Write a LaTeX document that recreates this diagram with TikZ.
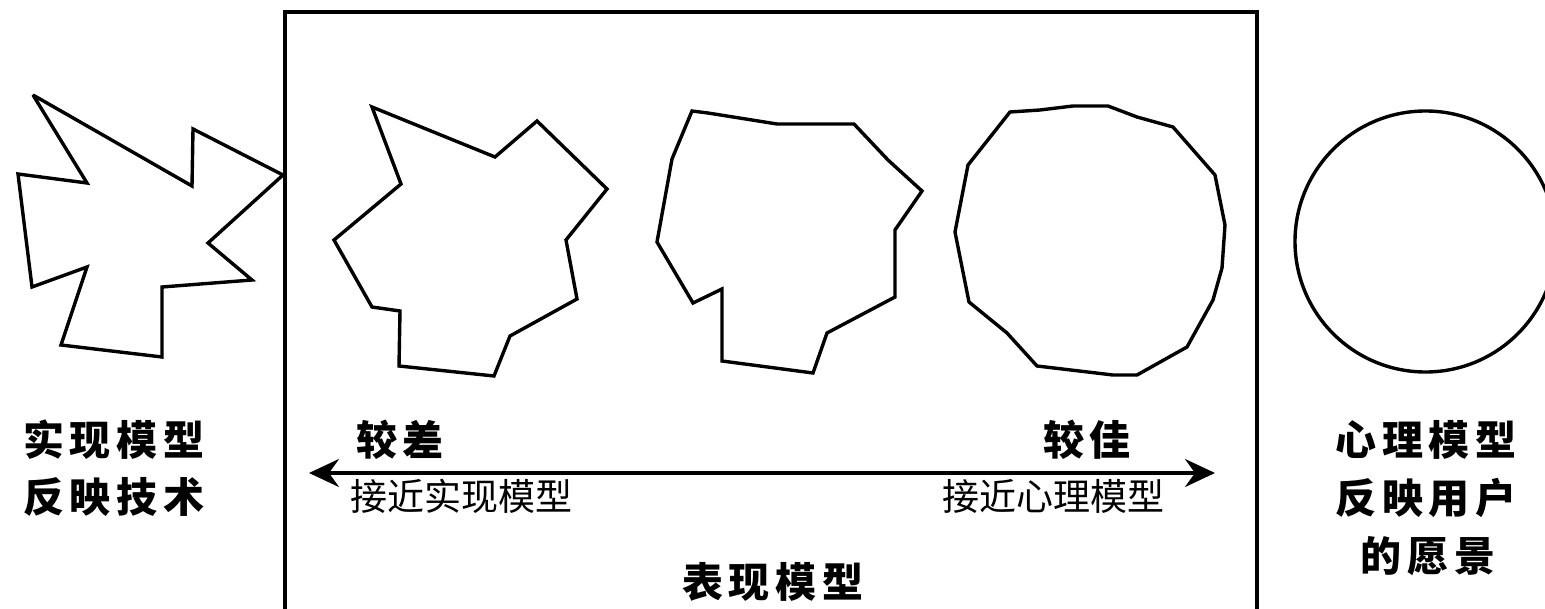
\documentclass[tikz,border=0pt]{standalone}
\usepackage{fontspec}
\usetikzlibrary{arrows.meta}
\newfontfamily\cjkbold[LetterSpace=14]{Noto Sans CJK SC}
\newfontfamily\cjkthin{Noto Sans CJK SC}
\tikzset{
  shapeline/.style={line width=3.4pt, line join=miter, miter limit=4},
  framebox/.style={line width=4pt},
  arrowline/.style={line width=3.4pt, {Stealth[length=30pt,width=28pt,inset=10pt]}-{Stealth[length=30pt,width=28pt,inset=10pt]}},
  biglabel/.style={font=\cjkbold\bfseries\fontsize{41}{43}\selectfont, anchor=base, inner sep=0pt, xshift=2.9pt},
  thinlabel/.style={font=\cjkthin\fontsize{37}{40}\selectfont, anchor=base, inner sep=0pt}
}
\begin{document}
\begin{tikzpicture}[x=1pt,y=-1pt]
\useasboundingbox (0,0) rectangle (1545,609);
% frame (open at bottom)
\draw[framebox] (285,609) -- (285,12) -- (1257,12) -- (1257,609);
% implementation model shape
\draw[shapeline] (33,95) -- (192,186) -- (193,129) -- (283,175) -- (208,243) -- (252,280) -- (162,287) -- (162,357) -- (61,345) -- (87,267) -- (32,287) -- (18,174) -- (87,183) -- cycle;
% shape 2
\draw[shapeline] (372,107) -- (495,157) -- (537,121) -- (607,189) -- (566,240) -- (577,299) -- (510,336) -- (494,376) -- (399,366) -- (400,311) -- (372,307) -- (334,240) -- (401,184) -- cycle;
% shape 3
\draw[shapeline] (692,111) -- (708,113) -- (777,124) -- (854,124) -- (888,160) -- (922,191) -- (895,230) -- (895,297) -- (827,333) -- (813,373) -- (722,361) -- (722,289) -- (693,303) -- (657,242) -- (672,159) -- cycle;
% shape 4
\draw[shapeline] (1010,112) -- (1040,110) -- (1073,106) -- (1108,106) -- (1137,117) -- (1173,127) -- (1215,175) -- (1225,225) -- (1222,268) -- (1213,300) -- (1187,347) -- (1137,375) -- (1113,375) -- (1037,366) -- (1007,333) -- (969,302) -- (955,232) -- (968,165) -- cycle;
% mental model circle
\draw[shapeline] (1425.5,241.5) circle[radius=130.5];
% arrow
\coordinate (aL) at (309,473);
\coordinate (aR) at (1215,473);
\draw[arrowline] (aL) -- (aR);
% labels
\node[biglabel] (impl1) at (111,455) {实现模型};
\node[biglabel] (impl2) at (111,512) {反映技术};
\node[biglabel] (worse) at (397,455) {较差};
\node[biglabel] (better) at (1084,455) {较佳};
\node[thinlabel] (nearimpl) at (461,510) {接近实现模型};
\node[thinlabel] (nearment) at (1053,510) {接近心理模型};
\node[biglabel] (ment1) at (1423,455) {心理模型};
\node[biglabel] (ment2) at (1423,513) {反映用户};
\node[biglabel] (ment3) at (1425,571) {的愿景};
\node[biglabel] (repr) at (770,597) {表现模型};
\end{tikzpicture}
\end{document}
